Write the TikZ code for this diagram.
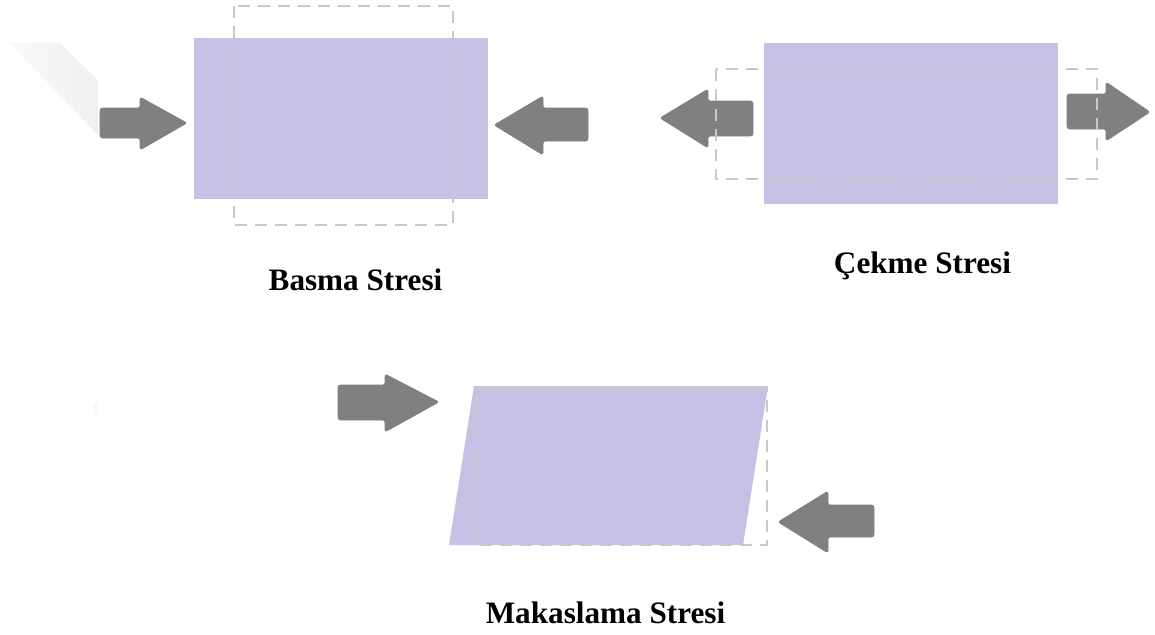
\documentclass[tikz,border=0pt]{standalone}
\usepackage{fontspec}
\setmainfont{Liberation Serif}
\definecolor{plate}{HTML}{C7C0E4}
\definecolor{arrowgray}{HTML}{808080}
\definecolor{dashgray}{HTML}{C8C8C8}
\definecolor{ghost}{HTML}{F0F0F0}
\tikzset{
  plate/.style={fill=plate, draw=none},
  outline/.style={draw=dashgray, line width=0.75pt, dash pattern=on 6pt off 4pt},
  blockarrow/.style={fill=arrowgray, draw=arrowgray, line width=0.3pt, rounded corners=1.2pt},
  caption/.style={font=\fontsize{15.6}{18}\selectfont\bfseries, anchor=base, inner sep=0pt}
}
\begin{document}
\begin{tikzpicture}[x=0.5pt,y=-0.5pt]
\useasboundingbox (0,0) rectangle (1155,634);
% faint background marks
\shade[left color=ghost!40, right color=ghost] (10,43) -- (60,43) -- (98,80) -- (98,135) -- cycle;
\fill[ghost!50] (93,404) -- (98,401) -- (98,417) -- (95,417) -- cycle;

% ---- Basma Stresi ----
\fill[plate] (194,38) rectangle (488,199);
\draw[blockarrow] (100,108) -- (140,108) -- (140,97) -- (187,123) -- (140,150) -- (140,138) -- (100,138) -- cycle;
\draw[blockarrow] (588,108) -- (543,108) -- (543,96) -- (494,125) -- (543,155) -- (543,141) -- (588,141) -- cycle;
\draw[outline] (234,6) rectangle (453,225);
\node[caption] (basma) at (355.5,290) {Basma Stresi};

% ---- Cekme Stresi ----
\fill[plate] (764,43) rectangle (1058,204);
\draw[blockarrow] (753,101) -- (708,101) -- (708,89) -- (660,118) -- (708,148) -- (708,136) -- (753,136) -- cycle;
\draw[blockarrow] (1067,94) -- (1106,94) -- (1106,82) -- (1150,112) -- (1106,141) -- (1106,129) -- (1067,129) -- cycle;
\draw[outline] (716,69) rectangle (1097,179);
\node[caption] (cekme) at (922.5,273) {Çekme Stresi};

% ---- Makaslama Stresi ----
\fill[plate] (474,386) -- (768,386) -- (743,545) -- (449,545) -- cycle;
\draw[outline] (477,388) rectangle (767,545);
\draw[draw=dashgray, line width=0.75pt] (477,388) -- (767,388);
\draw[blockarrow] (338,385) -- (385,385) -- (385,374) -- (439,402) -- (385,432) -- (385,420) -- (338,420) -- cycle;
\draw[blockarrow] (874,505) -- (828,505) -- (828,491) -- (778,522) -- (828,553) -- (828,537) -- (874,537) -- cycle;
\node[caption] (makas) at (605.5,623) {Makaslama Stresi};
\end{tikzpicture}
\end{document}
